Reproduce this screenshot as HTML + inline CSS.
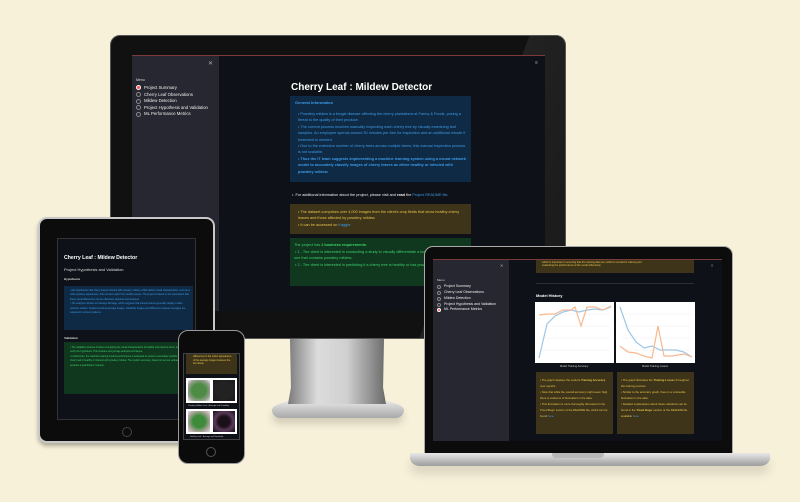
<!DOCTYPE html>
<html><head><meta charset="utf-8"><style>
*{margin:0;padding:0;box-sizing:border-box}
body{width:800px;height:502px;background:#f8f1da;position:relative;overflow:hidden;font-family:"Liberation Sans",sans-serif}
.a{position:absolute}
.t{position:absolute;white-space:nowrap;line-height:1}
.bl{background:#0f2a44}.yl{background:#3e3419}.gr{background:#10381f}
</style></head><body>

<!-- Monitor stand -->
<div class="a" style="left:272px;top:398px;width:132px;height:20px;border-radius:40% 40% 8px 8px/60% 60% 8px 8px;background:linear-gradient(#f0f0f0,#a8a8a8);box-shadow:0 6px 8px rgba(0,0,0,.15)"></div>
<div class="a" style="left:288px;top:338px;width:98px;height:66px;background:linear-gradient(90deg,#7b7b7b,#dcdcdc 30%,#d0d0d0 60%,#6a6a6a);clip-path:polygon(2% 0,98% 0,97% 75%,100% 100%,0 100%,3% 75%)"></div>
<!-- Monitor -->
<div class="a" style="left:110px;top:35px;width:456px;height:304px;background:#111;border-radius:10px;border:1px solid #555;overflow:hidden"><div style="position:absolute;left:360px;top:-10px;width:200px;height:340px;background:linear-gradient(90deg,rgba(255,255,255,.07),rgba(255,255,255,.02));transform:skewX(-20deg)"></div></div>
<div class="a" style="left:132px;top:55px;width:413px;height:256px;background:#0e1117;border-top:1px solid #7a3a3a"></div>
<div class="a" style="left:132px;top:56px;width:87px;height:255px;background:#262730"></div>
<div class="t" style="left:208px;top:61px;color:#aaa;font-size:6px">✕</div>
<div class="t" style="left:535px;top:61px;color:#aaa;font-size:5px">≡</div>
<div class="t" style="left:136px;top:79px;color:#ddd;font-size:3.5px">Menu</div>
<div class="a" style="left:136px;top:85px;width:5px;height:5px;border-radius:50%;background:#ff4b4b;border:1px solid #fff"></div>
<div class="t" style="left:144px;top:86px;color:#eee;font-size:4.3px">Project Summary</div>
<div class="a" style="left:136px;top:92px;width:5px;height:5px;border-radius:50%;border:1px solid #888"></div>
<div class="t" style="left:144px;top:92.5px;color:#eee;font-size:4.3px">Cherry Leaf Observations</div>
<div class="a" style="left:136px;top:98.5px;width:5px;height:5px;border-radius:50%;border:1px solid #888"></div>
<div class="t" style="left:144px;top:99px;color:#eee;font-size:4.3px">Mildew Detection</div>
<div class="a" style="left:136px;top:105px;width:5px;height:5px;border-radius:50%;border:1px solid #888"></div>
<div class="t" style="left:144px;top:105.5px;color:#eee;font-size:4.3px">Project Hypothesis and Validation</div>
<div class="a" style="left:136px;top:111.5px;width:5px;height:5px;border-radius:50%;border:1px solid #888"></div>
<div class="t" style="left:144px;top:112px;color:#eee;font-size:4.3px">ML Performance Metrics</div>
<div class="t" style="left:291px;top:83px;color:#fff;font-size:10px;font-weight:bold">Cherry Leaf : Mildew Detector</div>
<div class="a bl" style="left:290px;top:96px;width:181px;height:86px"></div>
<div class="t" style="left:295px;top:101px;color:#3d9be9;font-size:4px;font-weight:bold">General Information</div>
<div class="a" style="left:298px;top:111px;width:168px;color:#3d9be9;font-size:3.8px;line-height:6.4px">• Powdery mildew is a fungal disease affecting the cherry plantations at Farmy &amp; Foods, posing a threat to the quality of their produce.<br>• The current process involves manually inspecting each cherry tree by visually examining leaf samples. An employee spends around 30 minutes per tree for inspection and an additional minute if treatment is needed.<br>• Due to the extensive number of cherry trees across multiple farms, this manual inspection process is not scalable.<br><b>• Thus the IT team suggests implementing a machine learning system using a neural network model to accurately classify images of cherry leaves as either healthy or infected with powdery mildew.</b></div>
<div class="t" style="left:292px;top:194px;color:#eee;font-size:3.8px">•&nbsp; For additional information about the project, please visit and <b>read</b> the <span style="color:#3d9be9">Project README file</span>.</div>
<div class="a yl" style="left:290px;top:204px;width:181px;height:30px"></div>
<div class="a" style="left:298px;top:209px;width:168px;color:#e8c44a;font-size:3.8px;line-height:6.4px">• The dataset comprises over 4,000 images from the client's crop fields that show healthy cherry leaves and those affected by powdery mildew.<br>• It can be accessed on <span style="color:#3d9be9">Kaggle</span>.</div>
<div class="a gr" style="left:290px;top:238px;width:181px;height:48px"></div>
<div class="a" style="left:294px;top:242px;width:172px;color:#3ed16a;font-size:3.8px;line-height:6.6px">The project has <b>2 business requirements</b>:<br>&nbsp;• 1 - The client is interested in conducting a study to visually differentiate a leaf that is healthy from one that contains powdery mildew.<br>&nbsp;• 2 - The client is interested in predicting if a cherry tree is healthy or has powdery mildew.</div>

<!-- Tablet -->
<div class="a" style="left:38px;top:217px;width:177px;height:226px;background:#0c0c0c;border-radius:9px;border:2px solid #c8c8c8;box-shadow:0 3px 4px rgba(0,0,0,.3)"></div>
<div class="a" style="left:57px;top:238px;width:139px;height:182px;background:#0e1117;border:1px solid #333"></div>
<div class="a" style="left:122px;top:427px;width:10px;height:10px;border-radius:50%;border:1px solid #444"></div>
<div class="t" style="left:64px;top:256px;color:#fff;font-size:5.2px;font-weight:bold">Cherry Leaf : Mildew Detector</div>
<div class="t" style="left:64px;top:268px;color:#ddd;font-size:4px">Project Hypothesis and Validation</div>
<div class="t" style="left:64px;top:278px;color:#ddd;font-size:3px;font-weight:bold">Hypothesis</div>
<div class="a bl" style="left:64px;top:286px;width:129px;height:44px"></div>
<div class="a" style="left:70px;top:289px;width:120px;color:#3d9be9;font-size:2.4px;line-height:4.4px">• We hypothesize that cherry leaves infected with powdery mildew exhibit distinct visual characteristics, such as a white powdery appearance, that set them apart from healthy leaves. The project is based on the assumption that these visual differences can be effectively captured and analyzed.<br>• The analysis includes an Average Montage, which suggests that infected leaves generally display a white powdery surface. Studies involving Average Images, Variability Images and Difference between Averages are expected to uncover patterns.</div>
<div class="t" style="left:64px;top:337px;color:#ddd;font-size:3px;font-weight:bold">Validation</div>
<div class="a gr" style="left:64px;top:342px;width:129px;height:52px"></div>
<div class="a" style="left:70px;top:346px;width:120px;color:#3ed16a;font-size:2.4px;line-height:4.4px">• The validation process involves comparing the visual characteristics of healthy and infected cherry leaves to verify the hypothesis. This includes using image analysis techniques.<br>• Furthermore, the machine learning model's performance is assessed to ensure it accurately predicts whether a cherry leaf is healthy or infected with powdery mildew. The model's accuracy, based on test set evaluations, provides a quantitative measure.</div>

<!-- Phone -->
<div class="a" style="left:178px;top:330px;width:67px;height:134px;background:#0b0b0b;border-radius:10px;border:1.5px solid #999"></div>
<div class="a" style="left:183px;top:353px;width:57px;height:87px;background:#0e1117;border:1px solid #444"></div>
<div class="a" style="left:206px;top:447px;width:10px;height:10px;border-radius:50%;border:1px solid #555"></div>
<div class="a yl" style="left:186px;top:354px;width:51px;height:20px"></div>
<div class="a" style="left:193px;top:355px;width:40px;color:#e8c44a;font-size:2.4px;line-height:3.6px">differences in the colour appearance of the average images between the two labels.</div>
<div class="a" style="left:186px;top:378px;width:51px;height:25px;background:#fff"></div>
<div class="a" style="left:188px;top:380px;width:22px;height:21px;background:radial-gradient(#4e8c46 45%,#9aa093 75%,#eee)"></div>
<div class="a" style="left:213px;top:380px;width:22px;height:21px;background:radial-gradient(#222 50%,#1a1a1e)"></div>
<div class="t" style="left:188px;top:405px;color:#ccc;font-size:2px">Powdery Mildew Leaf - Average and Variability</div>
<div class="a" style="left:186px;top:409px;width:51px;height:25px;background:#fff"></div>
<div class="a" style="left:188px;top:411px;width:22px;height:21px;background:radial-gradient(#3f8b3c 40%,#b8a8a6 75%,#ddd)"></div>
<div class="a" style="left:213px;top:411px;width:22px;height:21px;background:radial-gradient(#1a1018 35%,#5a3a5a 60%,#111)"></div>
<div class="t" style="left:190px;top:436px;color:#ccc;font-size:2px">Healthy Leaf - Average and Variability</div>

<!-- Laptop -->
<div class="a" style="left:424px;top:246px;width:309px;height:208px;background:#0c0c0c;border-radius:9px 9px 0 0;border:1.5px solid #aaa"></div>
<div class="a" style="left:433px;top:259px;width:289px;height:182px;background:#0e1117;border-top:1px solid #7a3a3a"></div>
<div class="a" style="left:433px;top:260px;width:76px;height:181px;background:#262730"></div>
<div class="t" style="left:500px;top:264px;color:#aaa;font-size:4px">✕</div>
<div class="t" style="left:711px;top:264px;color:#aaa;font-size:4px">≡</div>
<div class="a" style="left:410px;top:453px;width:360px;height:13px;background:linear-gradient(#e8e8e8,#9c9c9c);border-radius:0 0 10px 10px/0 0 8px 8px;box-shadow:0 8px 10px rgba(0,0,0,.12)"></div>
<div class="a" style="left:552px;top:453px;width:52px;height:5px;background:#b8b8b8;border-radius:0 0 4px 4px"></div>
<div class="t" style="left:437px;top:279px;color:#ddd;font-size:3px">Menu</div>
<div class="a" style="left:437px;top:285px;width:4px;height:4px;border-radius:50%;border:1px solid #888"></div>
<div class="t" style="left:444px;top:285px;color:#eee;font-size:3.5px">Project Summary</div>
<div class="a" style="left:437px;top:291px;width:4px;height:4px;border-radius:50%;border:1px solid #888"></div>
<div class="t" style="left:444px;top:291px;color:#eee;font-size:3.5px">Cherry Leaf Observations</div>
<div class="a" style="left:437px;top:297px;width:4px;height:4px;border-radius:50%;border:1px solid #888"></div>
<div class="t" style="left:444px;top:297px;color:#eee;font-size:3.5px">Mildew Detection</div>
<div class="a" style="left:437px;top:302.5px;width:4px;height:4px;border-radius:50%;border:1px solid #888"></div>
<div class="t" style="left:444px;top:302.5px;color:#eee;font-size:3.5px">Project Hypothesis and Validation</div>
<div class="a" style="left:437px;top:308px;width:4px;height:4px;border-radius:50%;background:#ff4b4b;border:1px solid #fff"></div>
<div class="t" style="left:444px;top:308px;color:#eee;font-size:3.5px">ML Performance Metrics</div>
<div class="a yl" style="left:536px;top:260px;width:158px;height:13px"></div>
<div class="t" style="left:542px;top:262px;color:#e8c44a;font-size:2.6px">which is important in ensuring that the training data set, which is crucial for training and<br>evaluating the performance of the model effectively.</div>
<div class="a" style="left:536px;top:283px;width:158px;height:1px;background:#2a2d35"></div>
<div class="t" style="left:536px;top:294px;color:#fff;font-size:4px;font-weight:bold">Model History</div>
<svg class="a" style="left:535px;top:302px" width="79" height="61" viewBox="0 0 79 61">
<rect width="79" height="61" fill="#fff"/><g stroke="#eee" stroke-width=".5"><line x1="6" y1="12" x2="75" y2="12"/><line x1="6" y1="24" x2="75" y2="24"/><line x1="6" y1="36" x2="75" y2="36"/><line x1="6" y1="48" x2="75" y2="48"/></g>
<polyline fill="none" stroke="#9cc7e8" stroke-width="1.2" points="4,56 12,22 20,14 28,10 36,8 44,10 52,8 60,7 68,8 76,5"/>
<polyline fill="none" stroke="#f6b98f" stroke-width="1.2" points="4,13 12,12 20,12 28,8 36,8 40,5 46,24 52,5 60,5 68,8 76,4"/></svg>
<svg class="a" style="left:616px;top:302px" width="79" height="61" viewBox="0 0 79 61">
<rect width="79" height="61" fill="#fff"/><g stroke="#eee" stroke-width=".5"><line x1="6" y1="12" x2="75" y2="12"/><line x1="6" y1="24" x2="75" y2="24"/><line x1="6" y1="36" x2="75" y2="36"/><line x1="6" y1="48" x2="75" y2="48"/></g>
<polyline fill="none" stroke="#9cc7e8" stroke-width="1.2" points="4,5 12,28 20,40 28,46 36,44 44,48 52,48 60,48 68,50 76,55"/>
<polyline fill="none" stroke="#f6b98f" stroke-width="1.2" points="4,44 12,50 20,51 28,54 36,56 42,24 48,54 56,54 68,52 76,55"/></svg>
<div class="t" style="left:560px;top:366px;color:#ccc;font-size:2.6px">Model Training Accuracy</div>
<div class="t" style="left:642px;top:366px;color:#ccc;font-size:2.6px">Model Training Losses</div>
<div class="a yl" style="left:536px;top:372px;width:77px;height:62px"></div>
<div class="a" style="left:540px;top:377px;width:70px;color:#e8c44a;font-size:2.8px;line-height:6px">• The graph displays the model's <b>Training Accuracy</b> over epochs.<br>• Note that while the overall accuracy might seem high, there is evidence of fluctuation in the data.<br>• This fluctuation is more thoroughly discussed in the 'Fixed Bugs' section of the README file, which can be found <span style="color:#3d9be9">here</span>.</div>
<div class="a yl" style="left:617px;top:372px;width:77px;height:62px"></div>
<div class="a" style="left:621px;top:377px;width:70px;color:#e8c44a;font-size:2.8px;line-height:6px">• The graph illustrates the <b>Training Losses</b> throughout the training process.<br>• Similar to the accuracy graph, there is a noticeable fluctuation in the data.<br>• Detailed explanations about these variations can be found in the '<b>Fixed Bugs</b>' section of the README file, available <span style="color:#3d9be9">here</span>.</div>
</body></html>
